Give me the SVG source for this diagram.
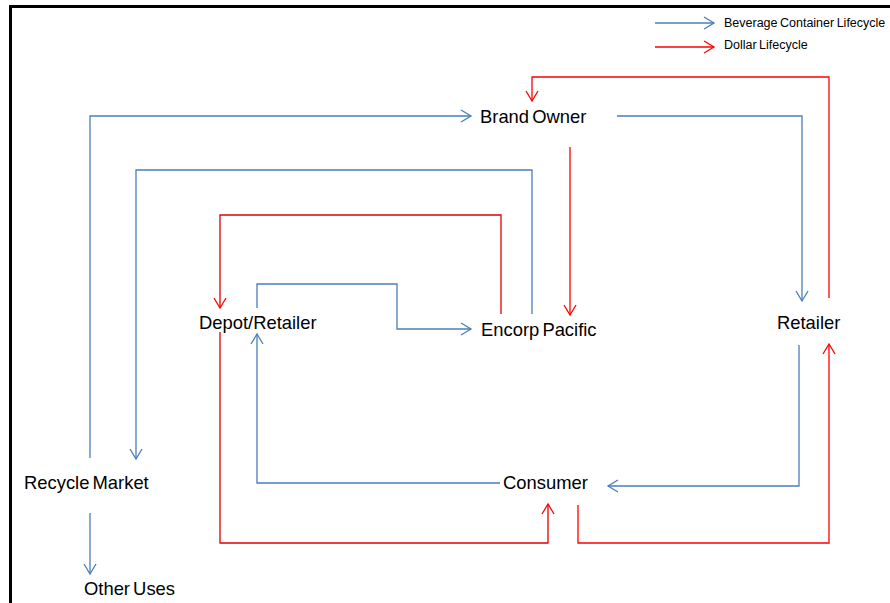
<svg xmlns="http://www.w3.org/2000/svg" width="890" height="603" viewBox="0 0 890 603">
<style>
.lbl{font-family:"Liberation Sans",Arial,sans-serif;font-size:18.4px;fill:#000;word-spacing:-2px}
.leg{font-family:"Liberation Sans",Arial,sans-serif;font-size:12.5px;fill:#000;word-spacing:-1px}
.b{fill:none;stroke:#4a7ebb;stroke-width:1.3}
.r{fill:none;stroke:#ff0000;stroke-width:1.3}
.r2{fill:none;stroke:#e00000;stroke-width:1.3}
</style>
<defs>
<marker id="ab" markerUnits="userSpaceOnUse" markerWidth="14" markerHeight="14" viewBox="0 0 14 14" refX="12" refY="7" orient="auto">
<path d="M2,1 L12,7 L2,13" fill="none" stroke="#4a7ebb" stroke-width="1.3"/>
</marker>
<marker id="ar" markerUnits="userSpaceOnUse" markerWidth="14" markerHeight="14" viewBox="0 0 14 14" refX="12" refY="7" orient="auto">
<path d="M2,1 L12,7 L2,13" fill="none" stroke="#ff0000" stroke-width="1.3"/>
</marker>
</defs>
<rect x="0" y="0" width="890" height="603" fill="#fff"/>
<rect x="10.5" y="6.5" width="900" height="620" fill="none" stroke="#000" stroke-width="3"/>
<g id="legend">
<line class="b" x1="655" y1="23" x2="714" y2="23" marker-end="url(#ab)"/>
<line class="r" x1="655" y1="47" x2="714" y2="47" marker-end="url(#ar)"/>
<text class="leg" x="724" y="27">Beverage Container Lifecycle</text>
<text class="leg" x="724" y="49">Dollar Lifecycle</text>
</g>
<g id="connectors">
<polyline class="b" points="90,458 90,116 471,116" marker-end="url(#ab)"/>
<polyline class="b" points="617,116 802,116 802,301" marker-end="url(#ab)"/>
<polyline class="r" points="829,298 829,77 532,77 532,101" marker-end="url(#ar)"/>
<polyline class="r" points="570,147 570,315" marker-end="url(#ar)"/>
<polyline class="b" points="532,314 532,170 136,170 136,459" marker-end="url(#ab)"/>
<polyline class="r2" points="501,314 501,215 220,215 220,308" marker-end="url(#ar)"/>
<polyline class="b" points="257,308 257,284 397,284 397,329 471,329" marker-end="url(#ab)"/>
<polyline class="b" points="500,483 257,483 257,334" marker-end="url(#ab)"/>
<polyline class="b" points="799,345 799,486 608,486" marker-end="url(#ab)"/>
<polyline class="r2" points="220,332 220,543 548,543 548,504" marker-end="url(#ar)"/>
<polyline class="r" points="578,505 578,543 829,543 829,344" marker-end="url(#ar)"/>
<polyline class="b" points="90,513 90,574" marker-end="url(#ab)"/>
</g>
<g id="brand-owner"><text class="lbl" x="480" y="123">Brand Owner</text></g>
<g id="depot-retailer"><text class="lbl" x="199" y="329">Depot/Retailer</text></g>
<g id="encorp-pacific"><text class="lbl" x="481" y="336">Encorp Pacific</text></g>
<g id="retailer"><text class="lbl" x="777" y="329">Retailer</text></g>
<g id="recycle-market"><text class="lbl" x="24" y="489">Recycle Market</text></g>
<g id="consumer"><text class="lbl" x="503" y="489">Consumer</text></g>
<g id="other-uses"><text class="lbl" x="84" y="595">Other Uses</text></g>
</svg>
